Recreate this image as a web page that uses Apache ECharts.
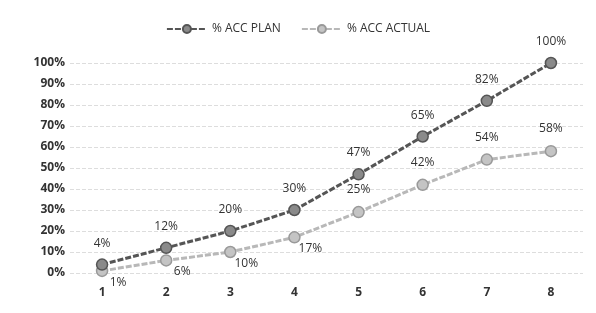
<!DOCTYPE html>
<html><head><meta charset="utf-8">
<script src="https://cdn.jsdelivr.net/npm/echarts@6/dist/echarts.min.js"></script>
<style>html,body{margin:0;padding:0;background:#fff}#c{width:596px;height:313px}</style>
</head><body><div id="c"></div>
<script>
const categories = ['1','2','3','4','5','6','7','8'];
const planValues = [4, 12, 20, 30, 47, 65, 82, 100];
const actualValues = [1, 6, 10, 17, 29, 42, 54, 58];
const actualLabels = ['1%', '6%', '10%', '17%', '25%', '42%', '54%', '58%'];
const yTicks = [0, 10, 20, 30, 40, 50, 60, 70, 80, 90, 100];

const chart = echarts.init(document.getElementById('c'));
const font = 'Open Sans, Noto Sans, sans-serif';
chart.setOption({
  animation: false,
  textStyle: { fontFamily: font },
  legend: {
    top: 18, left: 'center', itemGap: 20, itemWidth: 40, itemHeight: 10,
    textStyle: { color: '#333', fontSize: 12, fontFamily: font },
    data: ['% ACC PLAN', '% ACC ACTUAL']
  },
  grid: { left: 70, right: 13, top: 63, bottom: 40 },
  xAxis: {
    type: 'category', data: categories, boundaryGap: true,
    axisLine: { show: false }, axisTick: { show: false },
    axisLabel: { color: '#333', fontSize: 12, margin: 14, fontWeight: 'bold' }
  },
  yAxis: {
    type: 'value', min: 0, max: 100, interval: 10,
    axisLine: { show: false }, axisTick: { show: false },
    axisLabel: { color: '#333', fontSize: 12, margin: 5, fontWeight: 'bold',
      formatter: v => yTicks.includes(v) ? v + '%' : '' },
    splitLine: { lineStyle: { color: '#ddd', type: 'dashed', width: 1 } }
  },
  series: [
    {
      name: '% ACC PLAN', type: 'line', data: planValues,
      symbol: 'circle', symbolSize: 11,
      lineStyle: { color: '#555', width: 3, type: [6, 2] },
      itemStyle: { color: '#8a8a8a', borderColor: '#555', borderWidth: 1.5 },
      label: { show: true, position: 'top', distance: 9, color: '#333', fontSize: 12,
        formatter: p => p.value + '%' },
      z: 3
    },
    {
      name: '% ACC ACTUAL', type: 'line',
      symbol: 'circle', symbolSize: 11,
      lineStyle: { color: '#b8b8b8', width: 3, type: [6, 2] },
      itemStyle: { color: '#c4c4c4', borderColor: '#999', borderWidth: 1.5 },
      label: { show: true, color: '#333', fontSize: 12,
        formatter: p => actualLabels[p.dataIndex] },
      data: actualValues.map((v, i) => ({
        value: v,
        label: i < 4 ? { position: 'bottom', distance: 0, offset: [16, -1] } : { position: 'top', distance: 10 }
      })),
      z: 2
    }
  ]
});
</script></body></html>
